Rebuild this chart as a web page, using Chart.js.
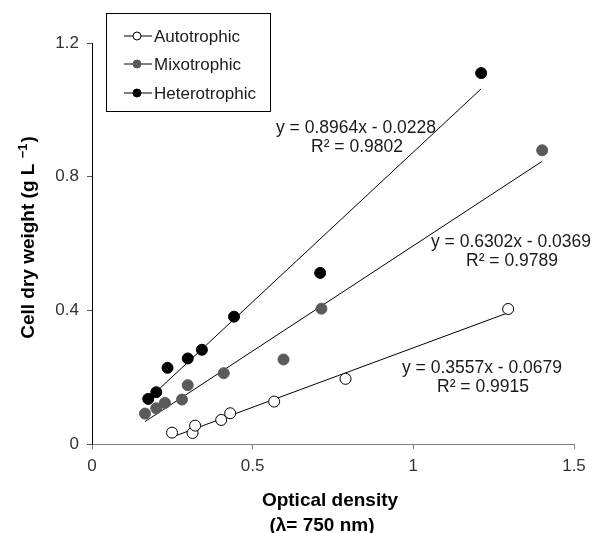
<!DOCTYPE html>
<html>
<head>
<meta charset="utf-8">
<script src="https://cdn.jsdelivr.net/npm/chart.js@4"></script>
<style>
  body { margin: 0; background: #fff; }
  #wrap { width: 598px; height: 533px; }
</style>
</head>
<body>
<div id="wrap"><canvas id="c"></canvas></div>
<script>
// series names
const seriesNames = ["Autotrophic", "Mixotrophic", "Heterotrophic"];

// optical density (x) and cell dry weight (y)
const autoX = [0.249, 0.313, 0.321, 0.402, 0.430, 0.567, 0.789, 1.295];
const autoY = [0.034, 0.033, 0.055, 0.072, 0.092, 0.127, 0.195, 0.404];
const mixoX = [0.165, 0.200, 0.227, 0.280, 0.298, 0.410, 0.596, 0.714, 1.401];
const mixoY = [0.091, 0.107, 0.123, 0.133, 0.176, 0.212, 0.253, 0.405, 0.879];
const heteroX = [0.175, 0.200, 0.235, 0.298, 0.342, 0.442, 0.710, 1.211];
const heteroY = [0.135, 0.155, 0.228, 0.256, 0.282, 0.381, 0.512, 1.110];

// linear fits printed on the chart
const slopes = [0.3557, 0.6302, 0.8964];
const intercepts = [-0.0679, -0.0369, -0.0228];
const r2 = ["0.9915", "0.9789", "0.9802"];

// axis ticks
const xTicks = [0, 0.5, 1, 1.5];
const yTicks = [0, 0.4, 0.8, 1.2];

const xs = [autoX, mixoX, heteroX];
const ys = [autoY, mixoY, heteroY];
const fills = ["#ffffff", "#5a5a5a", "#000000"];
const edges = ["#000000", "#5a5a5a", "#000000"];

const toPts = (a, b) => a.map((v, i) => ({ x: v, y: b[i] }));

const datasets = [];
seriesNames.forEach((name, i) => {
  datasets.push({
    type: "scatter",
    label: name,
    data: toPts(xs[i], ys[i]),
    backgroundColor: fills[i],
    borderColor: edges[i],
    borderWidth: 1,
    pointRadius: 5.5,
    order: 1
  });
});
// trend lines over the range of each series
seriesNames.forEach((name, i) => {
  const lo = Math.min(...xs[i]), hi = Math.max(...xs[i]);
  datasets.push({
    type: "line",
    label: name + " fit",
    data: [lo, hi].map(x => ({ x: x, y: slopes[i] * x + intercepts[i] })),
    borderColor: "#000",
    borderWidth: 1,
    pointRadius: 0,
    fill: false,
    order: 2
  });
});

// text drawn on top: equations, legend, axis titles
const extras = {
  id: "extras",
  afterDraw(chart) {
    const ctx = chart.ctx;
    ctx.save();
    ctx.fillStyle = "#1a1a1a";
    ctx.textBaseline = "middle";
    ctx.textAlign = "center";
    ctx.font = "17.5px 'Liberation Sans', Arial, sans-serif";

    const eqPos = [[482, 368], [511, 242], [356, 128]];
    slopes.forEach((m, i) => {
      const b = intercepts[i];
      const line1 = "y = " + m.toFixed(4) + "x " + (b < 0 ? "- " : "+ ") + Math.abs(b).toFixed(4);
      const line2 = "R\u00b2 = " + r2[i];
      ctx.fillText(line1, eqPos[i][0], eqPos[i][1]);
      ctx.fillText(line2, eqPos[i][0] + 1, eqPos[i][1] + 19);
    });

    // legend
    ctx.font = "17px 'Liberation Sans', Arial, sans-serif";
    ctx.strokeStyle = "#000";
    ctx.lineWidth = 1;
    ctx.strokeRect(106.5, 13.5, 164, 98);
    const ly = [36, 64, 93];
    ctx.textAlign = "left";
    seriesNames.forEach((name, i) => {
      ctx.beginPath();
      ctx.moveTo(124, ly[i]);
      ctx.lineTo(152, ly[i]);
      ctx.strokeStyle = "#000";
      ctx.stroke();
      ctx.beginPath();
      ctx.arc(137, ly[i], 4, 0, Math.PI * 2);
      ctx.fillStyle = fills[i];
      ctx.fill();
      ctx.strokeStyle = edges[i];
      ctx.stroke();
      ctx.fillStyle = "#1a1a1a";
      ctx.fillText(name, 154, ly[i] + 1);
    });

    // x title
    ctx.textAlign = "center";
    ctx.fillStyle = "#000";
    ctx.font = "bold 19px 'Liberation Sans', Arial, sans-serif";
    ctx.fillText("Optical density", 330, 501);
    ctx.fillText("(\u03bb= 750 nm)", 322, 526);

    // y title, rotated with superscript
    ctx.translate(29, 238);
    ctx.rotate(-Math.PI / 2);
    const main = "Cell dry weight (g L ";
    const sup = "\u22121";
    const close = ")";
    const big = "bold 19px 'Liberation Sans', Arial, sans-serif";
    const small = "bold 13px 'Liberation Sans', Arial, sans-serif";
    ctx.font = big;
    const w1 = ctx.measureText(main).width;
    const w3 = ctx.measureText(close).width;
    ctx.font = small;
    const w2 = ctx.measureText(sup).width;
    const x0 = -(w1 + w2 + w3) / 2;
    ctx.textAlign = "left";
    ctx.font = big;
    ctx.fillText(main, x0, 0);
    ctx.font = small;
    ctx.fillText(sup, x0 + w1, -6);
    ctx.font = big;
    ctx.fillText(close, x0 + w1 + w2 + 1, 0);
    ctx.restore();
  }
};

new Chart(document.getElementById("c"), {
  data: { datasets: datasets },
  options: {
    responsive: true,
    maintainAspectRatio: false,
    animation: false,
    layout: { padding: { top: 43, right: 24, left: 0, bottom: 0 } },
    plugins: { legend: { display: false }, tooltip: { enabled: false } },
    scales: {
      x: {
        type: "linear",
        min: 0,
        max: 1.5,
        afterBuildTicks: s => { s.ticks = xTicks.map(v => ({ value: v })); },
        afterFit: s => { s.height = 89; },
        border: { display: true, color: "#808080", width: 1 },
        grid: { drawOnChartArea: false, drawTicks: true, tickLength: 5, color: "#808080" },
        ticks: {
          padding: 7,
          color: "#333",
          font: { family: "'Liberation Sans', Arial, sans-serif", size: 17 },
          callback: v => String(v)
        }
      },
      y: {
        type: "linear",
        min: 0,
        max: 1.2,
        afterBuildTicks: s => { s.ticks = yTicks.map(v => ({ value: v })); },
        afterFit: s => { s.width = 92; },
        border: { display: true, color: "#000", width: 1 },
        grid: { drawOnChartArea: false, drawTicks: true, tickLength: 5, color: "#555" },
        ticks: {
          padding: 8,
          color: "#333",
          font: { family: "'Liberation Sans', Arial, sans-serif", size: 17 },
          callback: v => String(v)
        }
      }
    }
  },
  plugins: [extras]
});
</script>
</body>
</html>
